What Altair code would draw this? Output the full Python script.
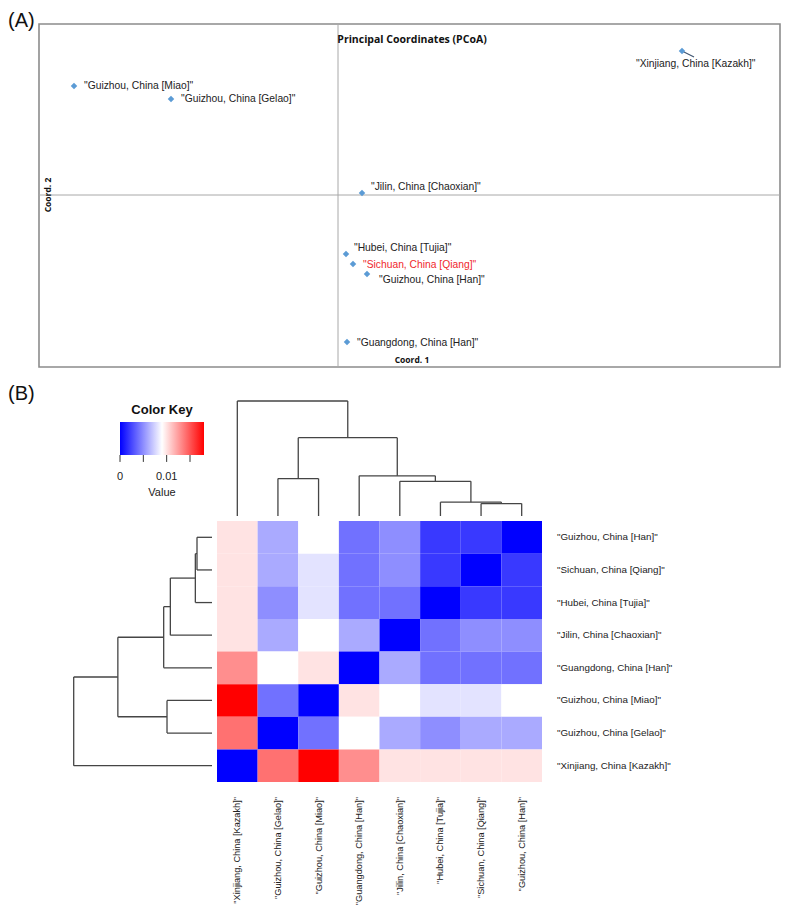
import altair as alt
import pandas as pd

# ---------------- canvas ----------------
W, H = 773, 900
FONT = "Liberation Sans"

# ---------------- Panel A : PCoA data ----------------
pcoa_labels = ['"Xinjiang, China [Kazakh]"', '"Guizhou, China [Miao]"', '"Guizhou, China [Gelao]"',
               '"Jilin, China [Chaoxian]"', '"Hubei, China [Tujia]"', '"Sichuan, China [Qiang]"',
               '"Guizhou, China [Han]"', '"Guangdong, China [Han]"']
coord1 = [0.344, -0.264, -0.167, 0.024, 0.008, 0.015, 0.029, 0.009]
coord2 = [0.144, 0.109, 0.096, 0.002, -0.059, -0.069, -0.079, -0.147]
highlight = '"Sichuan, China [Qiang]"'
# label placement offsets (pixels, right / down)
label_dx = [-46, 10, 10, 9, 8, 10, 12, 10]
label_dy = [13, 0, 0, -6, -6, 1, 6, 1]
leader = [True, False, False, False, False, False, False, False]

# ---------------- Panel B : distance matrix ----------------
col_order = ['"Xinjiang, China [Kazakh]"', '"Guizhou, China [Gelao]"', '"Guizhou, China [Miao]"',
             '"Guangdong, China [Han]"', '"Jilin, China [Chaoxian]"', '"Hubei, China [Tujia]"',
             '"Sichuan, China [Qiang]"', '"Guizhou, China [Han]"']
row_order = list(reversed(col_order))
fst = [
    [0.000, 0.014, 0.018, 0.013, 0.010, 0.010, 0.010, 0.010],
    [0.014, 0.000, 0.004, 0.009, 0.006, 0.005, 0.006, 0.006],
    [0.018, 0.004, 0.000, 0.010, 0.009, 0.008, 0.008, 0.009],
    [0.013, 0.009, 0.010, 0.000, 0.006, 0.004, 0.004, 0.004],
    [0.010, 0.006, 0.009, 0.006, 0.000, 0.004, 0.005, 0.005],
    [0.010, 0.005, 0.008, 0.004, 0.004, 0.000, 0.002, 0.002],
    [0.010, 0.006, 0.008, 0.004, 0.005, 0.002, 0.000, 0.002],
    [0.010, 0.006, 0.009, 0.004, 0.005, 0.002, 0.002, 0.000],
]
# hierarchical clustering merges (left, right, height)
merge_left = ['"Sichuan, China [Qiang]"', '"Hubei, China [Tujia]"', '"Jilin, China [Chaoxian]"',
              '"Guangdong, China [Han]"', '"Guizhou, China [Gelao]"', "m5", '"Xinjiang, China [Kazakh]"']
merge_right = ['"Guizhou, China [Han]"', "m1", "m2", "m3", '"Guizhou, China [Miao]"', "m4", "m6"]
merge_height = [0.0018, 0.0020, 0.0050, 0.0058, 0.0054, 0.0113, 0.0166]

key_ticks = [0, 0.005, 0.01, 0.015]
key_labels = ["0", "", "0.01", ""]
KEY_MIN, KEY_MAX = 0.0, 0.018
C_LOW, C_MID, C_HIGH = "#0000FF", "#FFFFFF", "#FF0000"


def lin(dom, rng):
    return alt.Scale(domain=dom, range=rng, nice=False, zero=False)


def X(f, sc):
    return alt.X(f, type="quantitative", scale=sc, axis=None)


def Y(f, sc):
    return alt.Y(f, type="quantitative", scale=sc, axis=None)


layers = []

# ================= Panel A =================
A_XDOM, A_XRNG = [-0.299, 0.442], [31, 772]
A_YDOM, A_YRNG = [-0.172, 0.171], [359, 16]
PX = (A_XRNG[1] - A_XRNG[0]) / (A_XDOM[1] - A_XDOM[0])  # pixels per unit
sxA, syA = lin(A_XDOM, A_XRNG), lin(A_YDOM, A_YRNG)

frame = pd.DataFrame({"x0": [A_XDOM[0]], "x1": [A_XDOM[1]], "y0": [A_YDOM[0]], "y1": [A_YDOM[1]]})
layers.append(alt.Chart(frame).mark_rect(fill="transparent", stroke="#8c8c8c", strokeWidth=1.6).encode(
    x=X("x0", sxA), x2="x1", y=Y("y0", syA), y2="y1"))

axes0 = pd.DataFrame({"x0": [0, A_XDOM[0]], "x1": [0, A_XDOM[1]],
                      "y0": [A_YDOM[0], 0], "y1": [A_YDOM[1], 0]})
layers.append(alt.Chart(axes0).mark_rule(color="#a8a8a8", strokeWidth=1).encode(
    x=X("x0", sxA), x2="x1", y=Y("y0", syA), y2="y1"))

pts = pd.DataFrame({"pop": pcoa_labels, "c1": coord1, "c2": coord2})
pts["lx"] = [c + dx / PX for c, dx in zip(coord1, label_dx)]
pts["ly"] = [c - dy / PX for c, dy in zip(coord2, label_dy)]
pts["tcolor"] = ["#F0282D" if p == highlight else "#222222" for p in pcoa_labels]

lead = pts[[bool(v) for v in leader]].copy()
lead["ex"] = lead["c1"] + 12 / PX
lead["ey"] = lead["c2"] - 6 / PX
layers.append(alt.Chart(lead).mark_rule(color="#3f5470", strokeWidth=1.1).encode(
    x=X("c1", sxA), x2="ex", y=Y("c2", syA), y2="ey"))

layers.append(alt.Chart(pts).mark_point(shape="diamond", filled=True, size=42, color="#5B9BD5", opacity=1).encode(
    x=X("c1", sxA), y=Y("c2", syA)))

layers.append(alt.Chart(pts).mark_text(align="left", baseline="middle", font=FONT, fontSize=10.3).encode(
    x=X("lx", sxA), y=Y("ly", syA), text="pop:N", color=alt.Color("tcolor:N", scale=None)))

annA = pd.DataFrame({"t": ["Principal Coordinates (PCoA)"], "x": [0.074], "y": [0.155]})
layers.append(alt.Chart(annA).mark_text(font="Open Sans", fontWeight="bold", fontSize=10.5, color="#111",
                                        align="center", baseline="middle").encode(
    x=X("x", sxA), y=Y("y", syA), text="t:N"))
annA1 = pd.DataFrame({"t": ["Coord. 1"], "x": [0.074], "y": [-0.165]})
layers.append(alt.Chart(annA1).mark_text(font="Open Sans", fontWeight="bold", fontSize=8.5, color="#111",
                                         align="center", baseline="middle").encode(
    x=X("x", sxA), y=Y("y", syA), text="t:N"))
annA2 = pd.DataFrame({"t": ["Coord. 2"], "x": [-0.290], "y": [0.0]})
layers.append(alt.Chart(annA2).mark_text(font="Open Sans", fontWeight="bold", fontSize=8.5, color="#111",
                                         align="center", baseline="middle", angle=270).encode(
    x=X("x", sxA), y=Y("y", syA), text="t:N"))

# panel letters (figure fractions)
sfx, sfy = lin([0, 1], [0, W]), lin([0, 1], [0, H])
letters = pd.DataFrame({"t": ["(A)", "(B)"], "x": [0.0, 0.0], "y": [13 / H, 386 / H]})
layers.append(alt.Chart(letters).mark_text(font=FONT, fontSize=20, color="#111", align="left",
                                           baseline="middle").encode(
    x=X("x", sfx), y=Y("y", sfy), text="t:N"))

# ================= Panel B =================
sHX = lin([-0.5, 7.5], [209, 534])   # column index
sHY = lin([-0.5, 7.5], [513, 774])   # row index (top -> bottom)
CELL_W = (534 - 209) / 8
CELL_H = (774 - 513) / 8
sHc = lin([0, merge_height[-1]], [508, 393])     # column dendrogram height
sHr = lin([0, merge_height[-1]], [204, 65.7])    # row dendrogram height
cscale = alt.Scale(domain=[KEY_MIN, (KEY_MIN + KEY_MAX) / 2, KEY_MAX], range=[C_LOW, C_MID, C_HIGH],
                   interpolate="rgb")

cells = []
for i, r in enumerate(row_order):
    ri = col_order.index(r)
    for j, c in enumerate(col_order):
        cells.append({"r0": i - 0.5, "r1": i + 0.5, "c0": j - 0.5, "c1": j + 0.5, "v": fst[ri][j]})
cells = pd.DataFrame(cells)
layers.append(alt.Chart(cells).mark_rect(strokeWidth=0).encode(
    x=X("c0", sHX), x2="c1", y=Y("r0", sHY), y2="r1",
    color=alt.Color("v:Q", scale=cscale, legend=None)))


def dendro_segments(order):
    pos = {k: float(i) for i, k in enumerate(order)}
    hgt = {k: 0.0 for k in order}
    segs = []
    for i, (a, b, h) in enumerate(zip(merge_left, merge_right, merge_height)):
        pa, pb = pos[a], pos[b]
        segs.append((pa, hgt[a], pa, h))
        segs.append((pb, hgt[b], pb, h))
        segs.append((pa, h, pb, h))
        node = f"m{i + 1}"
        pos[node] = (pa + pb) / 2
        hgt[node] = h
    return pd.DataFrame(segs, columns=["p0", "h0", "p1", "h1"])


dcol = dendro_segments(col_order)
layers.append(alt.Chart(dcol).mark_rule(color="#454545", strokeWidth=1.3).encode(
    x=X("p0", sHX), x2="p1", y=Y("h0", sHc), y2="h1"))
drow = dendro_segments(row_order)
layers.append(alt.Chart(drow).mark_rule(color="#454545", strokeWidth=1.3).encode(
    y=Y("p0", sHY), y2="p1", x=X("h0", sHr), x2="h1"))

rlab = pd.DataFrame({"t": row_order, "y": list(range(8)), "x": [7.5 + 15 / CELL_W] * 8})
layers.append(alt.Chart(rlab).mark_text(font=FONT, fontSize=9.8, color="#222", align="left",
                                        baseline="middle").encode(
    x=X("x", sHX), y=Y("y", sHY), text="t:N"))
clab = pd.DataFrame({"t": col_order, "x": list(range(8)), "y": [7.5 + 15 / CELL_H] * 8})
layers.append(alt.Chart(clab).mark_text(font=FONT, fontSize=9.2, color="#222", align="right",
                                        baseline="middle", angle=270).encode(
    x=X("x", sHX), y=Y("y", sHY), text="t:N"))

# ----- colour key -----
sKX = lin([KEY_MIN, KEY_MAX], [112, 196])
sKY = lin([0, 1], [447, 414])
grad = alt.LinearGradient(gradient="linear", x1=0, x2=1, y1=0, y2=0,
                          stops=[alt.GradientStop(color=C_LOW, offset=0),
                                 alt.GradientStop(color=C_MID, offset=0.5),
                                 alt.GradientStop(color=C_HIGH, offset=1)])
keyrect = pd.DataFrame({"x0": [KEY_MIN], "x1": [KEY_MAX], "y0": [0], "y1": [1]})
layers.append(alt.Chart(keyrect).mark_rect(fill=grad).encode(
    x=X("x0", sKX), x2="x1", y=Y("y0", sKY), y2="y1"))
kt = pd.DataFrame({"v": key_ticks, "lab": key_labels, "y0": [0.0] * 4, "y1": [-0.21] * 4, "ly": [-0.667] * 4})
layers.append(alt.Chart(kt).mark_rule(color="#333", strokeWidth=1).encode(
    x=X("v", sKX), y=Y("y0", sKY), y2="y1"))
layers.append(alt.Chart(kt).mark_text(font=FONT, fontSize=11, color="#222", align="center",
                                      baseline="middle").encode(
    x=X("v", sKX), y=Y("ly", sKY), text="lab:N"))
kv = pd.DataFrame({"t": ["Value"], "x": [(KEY_MIN + KEY_MAX) / 2], "y": [-1.15]})
layers.append(alt.Chart(kv).mark_text(font=FONT, fontSize=11, color="#222", align="center",
                                      baseline="middle").encode(
    x=X("x", sKX), y=Y("y", sKY), text="t:N"))
kk = pd.DataFrame({"t": ["Color Key"], "x": [(KEY_MIN + KEY_MAX) / 2], "y": [1.36]})
layers.append(alt.Chart(kk).mark_text(font=FONT, fontSize=13, fontWeight="bold", color="#111", align="center",
                                      baseline="middle").encode(
    x=X("x", sKX), y=Y("y", sKY), text="t:N"))

chart = alt.layer(*layers).resolve_scale(
    x="independent", y="independent", color="independent"
).properties(
    width=W, height=H, padding=0, autosize=alt.AutoSizeParams(type="none")
).configure_view(stroke=None)

chart.save("out.html", embed_options={"renderer": "svg", "actions": False})
